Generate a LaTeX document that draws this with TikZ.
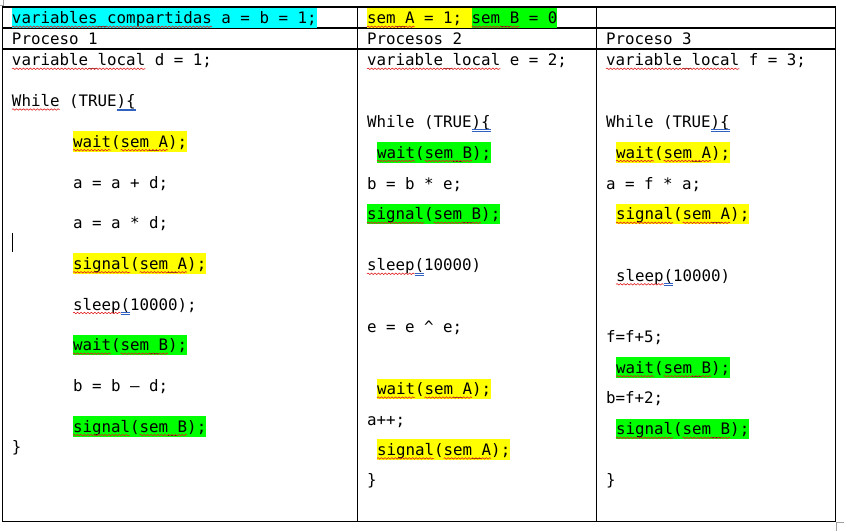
\documentclass[tikz,border=0pt]{standalone}
\usepackage{fontspec}
\newfontfamily\codefont{DejaVu Sans Mono}
\usetikzlibrary{decorations.pathmorphing}
\definecolor{hlcyan}{HTML}{00FFFF}
\definecolor{hlyellow}{HTML}{FFFF00}
\definecolor{hlgreen}{HTML}{00FF00}
\definecolor{squigred}{HTML}{E02020}
\definecolor{ulblue}{HTML}{3060C0}
\definecolor{markgray}{HTML}{A0A0A0}
\newcommand\cwid{9.52}
% red wavy underline: x, baseline, first char, number of chars
\newcommand\squig[4]{\draw[squigline] ({#1+#3*\cwid},{#2+2.8}) -- ++({#4*\cwid},0);}
% blue double underline
\newcommand\blueul[4]{\draw[blueline] ({#1+#3*\cwid},{#2+2.2}) -- ++({#4*\cwid},0);
  \draw[blueline] ({#1+#3*\cwid},{#2+4}) -- ++({#4*\cwid},0);}
\tikzset{
  code/.style={anchor=base west, inner sep=0pt, outer sep=0pt, text=black,
    font=\codefont\fontsize{11.86pt}{14pt}\selectfont},
  hl/.style={code, fill=#1, text height=12.2pt, text depth=3.3pt},
  grid/.style={line width=0.8pt, black},
  squigline/.style={squigred, line width=0.45pt,
    decorate, decoration={snake, segment length=2.6pt, amplitude=0.55pt}},
  blueline/.style={ulblue, line width=0.45pt},
  cornermark/.style={markgray, line width=0.6pt}
}
\begin{document}
\begin{tikzpicture}[x=0.75pt,y=-0.75pt]
\useasboundingbox (0,0) rectangle (844,531);
% table
\draw[grid] (2.5,7) rectangle (835.5,521.3);
\draw[grid] (2.5,28) -- (835.5,28);
\draw[grid] (2.5,49) -- (835.5,49);
\draw[grid] (357.5,7) -- (357.5,521.3);
\draw[grid] (596.5,7) -- (596.5,521.3);
% corner marks and cursor
\draw[cornermark] (3,0) -- (3,5) -- (0,5);
\draw[cornermark] (844,522.3) -- (836,522.3) -- (836,531);
\draw[line width=0.7pt] (12.5,233) -- (12.5,252.5);

% row 1
\node[hl=hlcyan] (shared) at (12,24) {variables\_compartidas a = b = 1;};
\node[hl=hlyellow] (semA) at (367,24) {sem\_A = 1;\mbox{ }};
\node[hl=hlgreen] (semB) at (471.7,24) {sem\_B = 0};
\squig{12}{24}{0}{21}
\squig{367}{24}{0}{5}
\squig{471.7}{24}{0}{5}

% row 2
\node[code] (h1) at (12,45) {Proceso 1};
\node[code] (h2) at (367,45) {Procesos 2};
\node[code] (h3) at (606,45) {Proceso 3};

% Proceso 1
\node[code] (p1a) at (12,66) {variable\_local d = 1;};
\squig{12}{66}{0}{14}
\node[code] (p1b) at (12,106.7) {While (TRUE)\{};
\squig{12}{106.7}{0}{5}
\blueul{12}{106.7}{11}{2}
\node[hl=hlyellow] (p1c) at (73,147.4) {wait(sem\_A);};
\squig{73}{147.4}{0}{4}\squig{73}{147.4}{5}{5}
\node[code] (p1d) at (73,188.1) {a = a + d;};
\node[code] (p1e) at (73,228.8) {a = a * d;};
\node[hl=hlyellow] (p1f) at (73,269.5) {signal(sem\_A);};
\squig{73}{269.5}{0}{6}\squig{73}{269.5}{7}{5}
\node[code] (p1g) at (73,310.2) {sleep(10000);};
\squig{73}{310.2}{0}{5}
\blueul{73}{310.2}{5}{1}
\node[hl=hlgreen] (p1h) at (73,350.9) {wait(sem\_B);};
\squig{73}{350.9}{0}{4}\squig{73}{350.9}{5}{5}
\node[code] (p1i) at (73,391.6) {b = b – d;};
\node[hl=hlgreen] (p1j) at (73,432.3) {signal(sem\_B);};
\squig{73}{432.3}{0}{6}\squig{73}{432.3}{7}{5}
\node[code] (p1k) at (12,452.7) {\}};

% Procesos 2
\node[code] (p2a) at (367,66) {variable\_local e = 2;};
\squig{367}{66}{0}{14}
\node[code] (p2b) at (367,127.6) {While (TRUE)\{};
\blueul{367}{127.6}{11}{2}
\node[hl=hlgreen] (p2c) at (377,158.2) {wait(sem\_B);};
\squig{377}{158.2}{0}{4}\squig{377}{158.2}{5}{5}
\node[code] (p2d) at (367,189.1) {b = b * e;};
\node[hl=hlgreen] (p2e) at (367,220) {signal(sem\_B);};
\squig{367}{220}{0}{6}\squig{367}{220}{7}{5}
\node[code] (p2f) at (367,271) {sleep(10000)};
\squig{367}{271}{0}{5}
\blueul{367}{271}{5}{1}
\node[code] (p2g) at (367,333) {e = e \textasciicircum{} e;};
\node[hl=hlyellow] (p2h) at (377,394.8) {wait(sem\_A);};
\squig{377}{394.8}{0}{4}\squig{377}{394.8}{5}{5}
\node[code] (p2i) at (367,425.3) {a++;};
\node[hl=hlyellow] (p2j) at (377,455.6) {signal(sem\_A);};
\squig{377}{455.6}{0}{6}\squig{377}{455.6}{7}{5}
\node[code] (p2k) at (367,486) {\}};

% Proceso 3
\node[code] (p3a) at (606,66) {variable\_local f = 3;};
\squig{606}{66}{0}{14}
\node[code] (p3b) at (606,127.6) {While (TRUE)\{};
\blueul{606}{127.6}{11}{2}
\node[hl=hlyellow] (p3c) at (616,158.2) {wait(sem\_A);};
\squig{616}{158.2}{0}{4}\squig{616}{158.2}{5}{5}
\node[code] (p3d) at (606,189.1) {a = f * a;};
\node[hl=hlyellow] (p3e) at (616,220) {signal(sem\_A);};
\squig{616}{220}{0}{6}\squig{616}{220}{7}{5}
\node[code] (p3f) at (616,281.5) {sleep(10000)};
\squig{616}{281.5}{0}{5}
\blueul{616}{281.5}{5}{1}
\node[code] (p3g) at (606,343) {f=f+5;};
\node[hl=hlgreen] (p3h) at (616,373.5) {wait(sem\_B);};
\squig{616}{373.5}{0}{4}\squig{616}{373.5}{5}{5}
\node[code] (p3i) at (606,404) {b=f+2;};
\node[hl=hlgreen] (p3j) at (616,435) {signal(sem\_B);};
\squig{616}{435}{0}{6}\squig{616}{435}{7}{5}
\node[code] (p3k) at (606,486) {\}};
\end{tikzpicture}
\end{document}
